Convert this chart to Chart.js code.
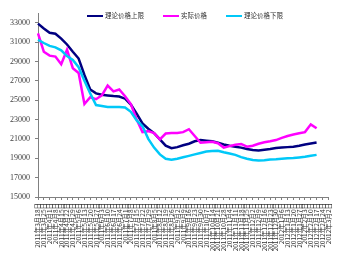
<!DOCTYPE html>
<html>
<head>
<meta charset="utf-8">
<script src="https://cdn.jsdelivr.net/npm/chart.js@4/dist/chart.umd.min.js"></script>
<style>
    body { margin: 0; background: #fff; }
    #wrap { width: 339px; height: 271px; }
</style>
</head>
<body>
<div id="wrap"><canvas id="priceChart" width="339" height="271"></canvas></div>
<script>
// weekly dates on the x axis
const dates = [
    '2011年3月18日', '2011年3月25日', '2011年4月1日', '2011年4月8日', '2011年4月15日',
    '2011年4月22日', '2011年4月29日', '2011年5月6日', '2011年5月13日', '2011年5月20日',
    '2011年5月27日', '2011年6月3日', '2011年6月10日', '2011年6月17日', '2011年6月24日',
    '2011年7月1日', '2011年7月8日', '2011年7月15日', '2011年7月22日', '2011年7月29日',
    '2011年8月5日', '2011年8月12日', '2011年8月19日', '2011年8月26日', '2011年9月2日',
    '2011年9月9日', '2011年9月16日', '2011年9月23日', '2011年9月30日', '2011年10月7日',
    '2011年10月14日', '2011年10月21日', '2011年10月28日', '2011年11月4日', '2011年11月11日',
    '2011年11月18日', '2011年11月25日', '2011年12月2日', '2011年12月9日', '2011年12月16日',
    '2011年12月23日', '2011年12月30日', '2012年1月6日', '2012年1月13日', '2012年1月20日',
    '2012年1月27日', '2012年2月3日', '2012年2月10日', '2012年2月17日', '2012年2月24日',
    '2012年3月2日'
];

const upperBound = [
    32900, 32400, 31950, 31860, 31350, 30750, 30000, 29300, 27600, 26100,
    25700, 25550, 25480, 25420, 25380, 25150, 24550, 23600, 22600, 22050,
    21600, 20950, 20300, 20040, 20150, 20350, 20500, 20750, 20880, 20820,
    20750, 20600, 20420, 20300, 20200, 20100, 19950, 19850, 19800, 19880,
    19950, 20050, 20100, 20150, 20200, 20300, 20420, 20520, 20620
];

const actualPrice = [
    31900, 30000, 29600, 29500, 28700, 30200, 28300, 27800, 24600, 25300,
    25100, 25500, 26500, 25900, 26100, 25400, 24600, 23000, 21700, 21800,
    21600, 20950, 21550, 21600, 21600, 21700, 22000, 21300, 20600, 20650,
    20700, 20550, 20100, 20250, 20400, 20480, 20200, 20300, 20500, 20650,
    20750, 20880, 21100, 21300, 21450, 21580, 21700, 22500, 22100
];

const lowerBound = [
    31240, 30900, 30600, 30450, 30150, 29550, 29150, 28400, 27000, 25700,
    24500, 24400, 24300, 24300, 24300, 24250, 23800, 22900, 22300, 21000,
    20100, 19400, 18950, 18850, 18950, 19100, 19250, 19400, 19550, 19690,
    19750, 19780, 19620, 19500, 19350, 19120, 18950, 18820, 18760, 18800,
    18870, 18900, 18950, 19000, 19020, 19080, 19150, 19250, 19350
];

const yTicks = [15000, 17000, 19000, 21000, 23000, 25000, 27000, 29000, 31000, 33000];

const legendPlugin = {
    id: 'lineLegend',
    afterDraw(chart) {
        const ctx = chart.ctx;
        const sets = chart.data.datasets;
        ctx.save();
        ctx.font = '6.5px "Noto Sans CJK SC"';
        ctx.textBaseline = 'middle';
        const sample = 16, gap = 2, space = 19;
        let total = 0;
        sets.forEach((ds, i) => {
            total += sample + gap + ctx.measureText(ds.label).width;
            if (i < sets.length - 1) total += space;
        });
        let x = 185 - total / 2;
        const y = 16;
        sets.forEach(ds => {
            ctx.strokeStyle = ds.borderColor;
            ctx.lineWidth = 2;
            ctx.beginPath();
            ctx.moveTo(x, y);
            ctx.lineTo(x + sample, y);
            ctx.stroke();
            ctx.fillStyle = '#333';
            ctx.fillText(ds.label, x + sample + gap, y);
            x += sample + gap + ctx.measureText(ds.label).width + space;
        });
        ctx.restore();
    }
};

const ctx = document.getElementById('priceChart').getContext('2d');
const priceChart = new Chart(ctx, {
    type: 'line',
    data: {
        labels: dates,
        datasets: [
            { label: '理论价格上限', data: upperBound, borderColor: '#000080', order: 3 },
            { label: '实际价格', data: actualPrice, borderColor: '#ff00ff', order: 2 },
            { label: '理论价格下限', data: lowerBound, borderColor: '#00c8f8', order: 1 }
        ]
    },
    options: {
        responsive: false,
        animation: false,
        layout: { padding: { top: 13, right: 4, left: 0, bottom: 0 } },
        elements: {
            line: { borderWidth: 2.5, tension: 0 },
            point: { radius: 0 }
        },
        plugins: {
            legend: { display: false },
            tooltip: { enabled: false }
        },
        scales: {
            x: {
                offset: false,
                grid: { drawOnChartArea: false, tickLength: 3, color: '#808080' },
                border: { color: '#808080' },
                ticks: {
                    autoSkip: false,
                    maxRotation: 90,
                    minRotation: 90,
                    padding: 3,
                    color: '#333',
                    font: { family: '"Noto Sans CJK SC"', size: 6.5 }
                },
                afterFit(scale) { scale.height = 74; }
            },
            y: {
                min: 15000,
                max: 34000,
                afterBuildTicks(scale) {
                    scale.ticks = yTicks.map(v => ({ value: v }));
                },
                grid: { drawOnChartArea: false, tickLength: 3, color: '#808080' },
                border: { color: '#808080' },
                ticks: {
                    padding: 5,
                    color: '#404040',
                    font: { family: '"Liberation Serif"', size: 8 },
                    callback: value => String(value)
                },
                afterFit(scale) { scale.width = 38; }
            }
        }
    },
    plugins: [legendPlugin]
});
</script>
</body>
</html>
